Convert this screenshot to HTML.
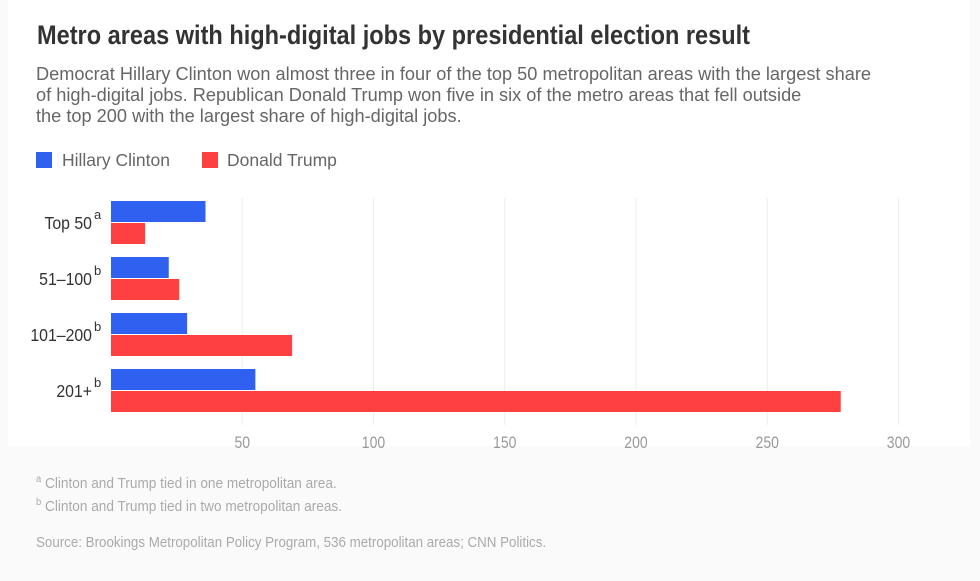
<!DOCTYPE html>
<html><head><meta charset="utf-8"><style>
body{margin:0;width:980px;height:581px;background:#fafafa;font-family:"Liberation Sans",sans-serif;overflow:hidden;position:relative}
#panel{position:absolute;left:8px;top:0;width:962px;height:446px;background:#fff}
.t{position:absolute;white-space:nowrap}
#title{left:37px;top:20px;font-weight:bold;font-size:27px;color:#333;transform:scaleX(0.872);transform-origin:0 0}
#sub{left:36px;top:64px;font-size:18.2px;line-height:21px;color:#666}
.leg{top:150px;font-size:17.5px;color:#666}
.sw{position:absolute;top:152px;width:16px;height:16px}
.foot{left:36px;font-size:14.5px;color:#aaa;transform:scaleX(0.94);transform-origin:0 0}
</style></head><body>
<div id="panel"></div>
<div class="t" id="title">Metro areas with high-digital jobs by presidential election result</div>
<div class="t" id="sub">Democrat Hillary Clinton won almost three in four of the top 50 metropolitan areas with the largest share<br>of high-digital jobs. Republican Donald Trump won five in six of the metro areas that fell outside<br>the top 200 with the largest share of high-digital jobs.</div>
<div class="sw" style="left:36px;background:#3060f0"></div>
<div class="t leg" style="left:62px">Hillary Clinton</div>
<div class="sw" style="left:202px;background:#ff4040"></div>
<div class="t leg" style="left:227px">Donald Trump</div>
<svg id="chart" width="980" height="581" style="position:absolute;left:0;top:0"></svg>
<div class="t foot" style="top:474px"><sup style="font-size:10px">a</sup> Clinton and Trump tied in one metropolitan area.</div>
<div class="t foot" style="top:497px"><sup style="font-size:10px">b</sup> Clinton and Trump tied in two metropolitan areas.</div>
<div class="t foot" style="top:535px;transform:scaleX(0.92)">Source: Brookings Metropolitan Policy Program, 536 metropolitan areas; CNN Politics.</div>
<script>
const categories=["Top 50","51–100","101–200","201+"];
const marks=["a","b","b","b"];
const clinton=[36,22,29,55];
const trump=[13,26,69,278];
const ticks=[50,100,150,200,250,300];
const svg=document.getElementById('chart');
const NS="http://www.w3.org/2000/svg";
const x=v=>111+v*2.625;
const y0=201,pitch=56,bh=21;
function mk(t,a){const e=document.createElementNS(NS,t);for(const k in a)e.setAttribute(k,a[k]);svg.appendChild(e);return e;}
ticks.forEach(t=>{
 const l=mk('line',{x1:x(t),x2:x(t),y1:198,y2:425,stroke:'#eee','stroke-width':1});
 
 
 const tx=mk('text',{x:x(t),y:448,'text-anchor':'middle','font-size':16.5,fill:'#999',transform:`translate(${x(t)},0) scale(0.85,1) translate(${-x(t)},0)`});
 tx.textContent=t;
 
 
});
categories.forEach((c,i)=>{
 const yy=y0+i*pitch;
 const b1=mk('rect',{x:x(0),y:yy,width:x(clinton[i])-x(0),height:bh,fill:'#3060f0'});
 
 
 const b2=mk('rect',{x:x(0),y:yy+bh+1,width:x(trump[i])-x(0),height:bh,fill:'#ff4040'});
 
 
 const t=mk('text',{x:92,y:yy+bh+7,'text-anchor':'end','font-size':18,fill:'#333',transform:`translate(92,0) scale(0.88,1) translate(-92,0)`});
 t.textContent=c;
 
 
 const s=mk('text',{x:94,y:yy+bh-3,'font-size':13,fill:'#333'});
 s.textContent=marks[i];
 
 
});
</script>
</body></html>
